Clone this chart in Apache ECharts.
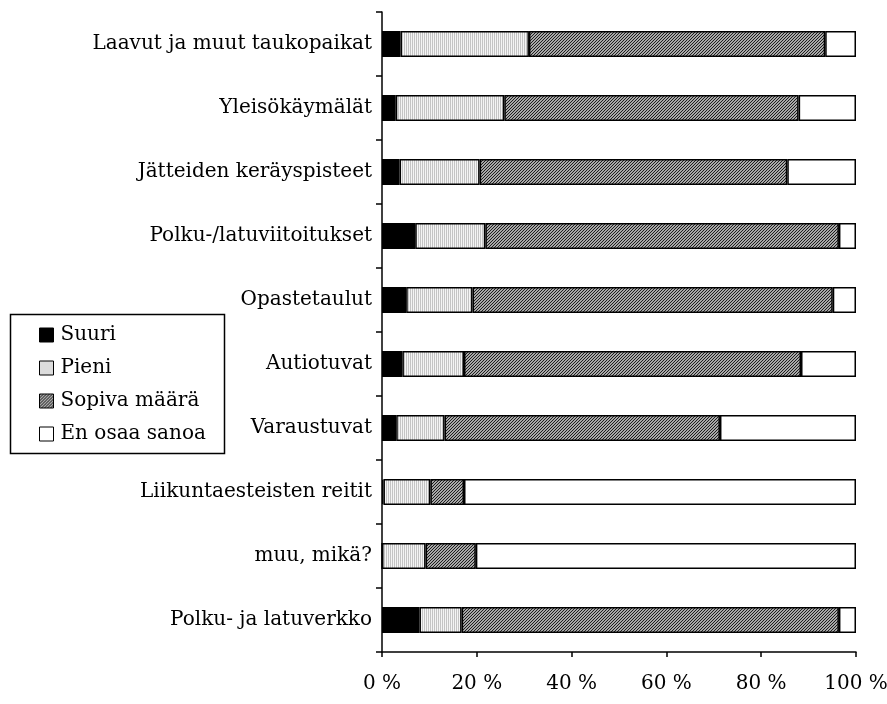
<!DOCTYPE html>
<html>
<head>
<meta charset="utf-8">
<script src="https://cdn.jsdelivr.net/npm/echarts@6/dist/echarts.min.js"></script>
<style>html,body{margin:0;padding:0;background:#fff}#c{width:887px;height:704px}</style>
</head>
<body>
<div id="c"></div>
<script>
// Categories, top to bottom
const categories = [
  "Laavut ja muut taukopaikat",
  "Yleisökäymälät",
  "Jätteiden keräyspisteet",
  "Polku-/latuviitoitukset",
  "Opastetaulut",
  "Autiotuvat",
  "Varaustuvat",
  "Liikuntaesteisten reitit",
  "muu, mikä?",
  "Polku- ja latuverkko"
];
const suuri       = [3.9, 2.9, 3.7, 7.0, 5.1, 4.3, 3.0, 0.3, 0.0, 7.9];
const pieni       = [27.1, 22.9, 16.9, 14.8, 14.0, 13.0, 10.2, 9.9, 9.2, 8.9];
const sopivaMaara = [62.5, 62.1, 64.9, 74.6, 76.0, 71.1, 58.1, 7.1, 10.6, 79.6];
const enOsaaSanoa = [6.5, 12.1, 14.5, 3.6, 4.9, 11.6, 28.7, 82.7, 80.2, 3.6];
const seriesNames = ["Suuri", "Pieni", "Sopiva määrä", "En osaa sanoa"];
const xTicks = [0, 20, 40, 60, 80, 100];

function makePattern(w, h, fn) {
  const cv = document.createElement('canvas');
  cv.width = w; cv.height = h;
  const ctx = cv.getContext('2d');
  for (let y = 0; y < h; y++) for (let x = 0; x < w; x++) {
    ctx.fillStyle = fn(x, y);
    ctx.fillRect(x, y, 1, 1);
  }
  return { image: cv, repeat: 'repeat' };
}
const pieniFill = makePattern(2, 2, (x, y) => x === 0 ? '#c4c4c4' : '#f4f4f4');
const sopivaFill = makePattern(3, 3, (x, y) => ((x + y) % 3 === 0) ? '#1e1e1e' : '#a8a8a8');

const FONT = 'DejaVu Serif';
const FS = 20;
const fills = ['#000000', pieniFill, sopivaFill, '#ffffff'];
const datas = [suuri, pieni, sopivaMaara, enOsaaSanoa];

const chart = echarts.init(document.getElementById('c'), null, { renderer: 'canvas' });
chart.setOption({
  animation: false,
  backgroundColor: '#fff',
  textStyle: { fontFamily: FONT, color: '#000' },
  grid: { left: 382, right: 31, top: 12, bottom: 52, containLabel: false, outerBoundsMode: 'none' },
  xAxis: {
    type: 'value', min: 0, max: 100, interval: 20,
    axisLine: { show: true, lineStyle: { color: '#000', width: 1.5 } },
    axisTick: { show: true, length: 5, lineStyle: { color: '#000', width: 1.5 } },
    splitLine: { show: false },
    axisLabel: { fontFamily: FONT, fontSize: FS, color: '#000', margin: 22,
      formatter: v => xTicks.indexOf(v) >= 0 ? v + ' %' : '' }
  },
  yAxis: {
    type: 'category', data: categories, inverse: true,
    axisLine: { show: true, lineStyle: { color: '#000', width: 1.5 } },
    axisTick: { show: true, length: 6, alignWithLabel: false, lineStyle: { color: '#000', width: 1.5 } },
    axisLabel: { fontFamily: FONT, fontSize: FS, color: '#000', margin: 10 }
  },
  legend: {
    orient: 'vertical', left: 34, top: 320,
    itemWidth: 14, itemHeight: 14, itemGap: 13,
    icon: 'rect',
    textStyle: { fontFamily: FONT, fontSize: FS, color: '#000', padding: [0, 0, 0, 2] },
    itemStyle: { borderColor: '#000', borderWidth: 1 },
    data: seriesNames
  },
  graphic: [{
    type: 'rect', left: 8, top: 312, shape: { width: 214, height: 139 },
    style: { fill: 'none', stroke: '#000', lineWidth: 1.5 }, z: 100, silent: true
  }],
  series: seriesNames.map((name, i) => ({
    name, type: 'bar', stack: 'total',
    data: datas[i],
    barWidth: 26,
    itemStyle: { color: fills[i], borderColor: '#000', borderWidth: 1.5 },
    emphasis: { disabled: true }
  }))
});
</script>
</body>
</html>
